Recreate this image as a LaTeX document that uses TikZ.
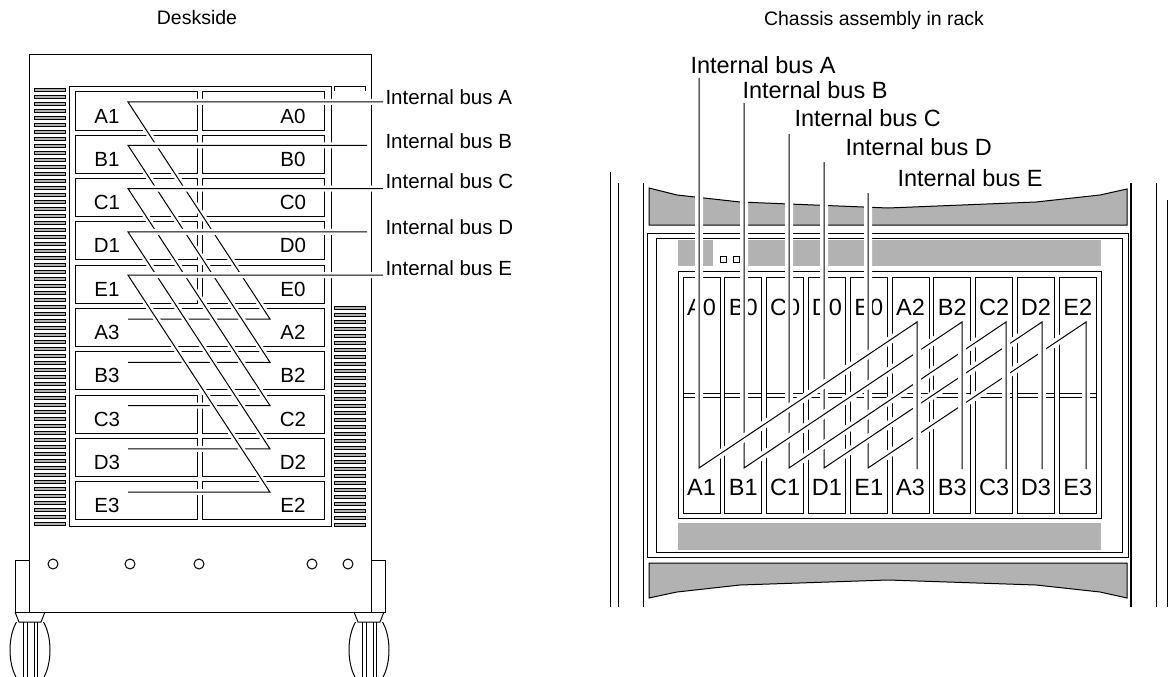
\documentclass[tikz,border=0pt]{standalone}
\usepackage{fontspec}
\setmainfont{Liberation Sans}
\usetikzlibrary{calc}

\begin{document}
\begin{tikzpicture}[x=1pt, y=-1pt, line width=1pt]
        % Sizes, in pixels of the drawing
        \pgfmathsetmacro{\rowstep}{43.3}
        \pgfmathsetmacro{\slotstep}{41.8}

        \tikzset{
            halo/.style={preaction={draw=white, line width=#1}},
            halo/.default=6pt,
            grayfill/.style={fill=black!30},
            slat/.style={fill=black!30, line width=0.6pt},
            titlefont/.style={inner sep=0pt, font=\fontsize{19.5}{19.5}\selectfont},
            deskfont/.style={inner sep=0pt, font=\fontsize{20.5}{20.5}\selectfont},
            rackfont/.style={inner sep=0pt, font=\fontsize{23.5}{23.5}\selectfont},
        }

        \useasboundingbox (0,0) rectangle (1171,677);

        % Deskside
        \node[titlefont, anchor=base] (tdesk) at (197,25) {Deskside};

        % Body, bay frame and bumpers
        \begin{scope}
            \draw (29,55) rectangle (371,612);
            \draw (69,87) rectangle (331,526);
            \draw (15,560) rectangle (29,612);
            \draw (371,560) rectangle (385,612);
            \draw (334,91) -- (334,87) -- (365,87) -- (365,91);
        \end{scope}

        % Vents left and right
        \foreach \i in {0,...,62}
            \draw[slat] (34,88+7*\i) rectangle (65,91.5+7*\i);
        \foreach \i in {0,...,31}
            \draw[slat] (334,306+7*\i) rectangle (365,309.5+7*\i);

        % Holes and casters
        \foreach \x in {53,130,199,312,348}
            \draw (\x,564) circle (5pt);
        \foreach \x in {30,369} {
            \draw (\x-15,612) -- (\x-11,622) -- (\x+11,622) -- (\x+15,612);
            \begin{scope}
                \clip (\x-25,622) rectangle (\x+25,677);
                \draw (\x,650) ellipse (20pt and 38pt);
            \end{scope}
            \foreach \d in {-7,-3,4,7}
                \draw (\x+\d,622) -- (\x+\d,677);
        }

        % Rows of bays
        \foreach \r in {0,1,2,3,4,7,8,9} {
            \draw (75,92+\rowstep*\r) rectangle (197,130+\rowstep*\r);
            \draw (202,92+\rowstep*\r) rectangle (324,130+\rowstep*\r);
        }
        \foreach \r in {5,6}
            \draw (75,92+\rowstep*\r) rectangle (324,130+\rowstep*\r);

        \foreach \a/\b [count=\i from 0] in {A1/A0, B1/B0, C1/C0, D1/D0,
            E1/E0, A3/A2, B3/B2, C3/C2, D3/D2, E3/E2} {
            \node[deskfont, anchor=base] (d\a) at (107,123+\rowstep*\i) {\a};
            \node[deskfont, anchor=base] (d\b) at (293,123+\rowstep*\i) {\b};
        }

        % Internal buses of the deskside
        \foreach \b/\e/\y [count=\i from 0] in {A/383/104, B/367/148,
            C/383/188, D/367/234, E/383/275} {
            \node[deskfont, anchor=base west] (dbus\b) at (385,\y)
                {Internal bus \b};
            \coordinate (dend\b) at (\e,102+\rowstep*\i);
            \coordinate (dtop\b) at (128,102+\rowstep*\i);
            \coordinate (dmid\b) at (270,319+\rowstep*\i);
            \coordinate (dlow\b) at (128,319+\rowstep*\i);
            \draw[halo] (dend\b) -- (dtop\b) -- (dmid\b) -- (dlow\b);
        }

        % Chassis assembly in rack
        \node[titlefont, anchor=base] (track) at (874,26)
            {Chassis assembly in rack};

        % Rails and chassis sides
        \begin{scope}
            \draw (610,172) -- (610,607);
            \draw (618,183) -- (618,607);
            \draw (643,183) -- (643,607);
            \draw[line width=2pt] (1131,183) -- (1131,607);
            \draw (1156,183) -- (1156,607);
            \draw (1167,200) -- (1167,607);
        \end{scope}

        % Front bands and frames
        \begin{scope}
            \draw[grayfill] (649,225) -- (649,188) -- (677,195) -- (740,202)
                -- (888,208) -- (1036,202) -- (1100,195) -- (1127,189)
                -- (1127,225) -- cycle;
            \draw[grayfill] (649,563) -- (1127,563) -- (1127,598)
                -- (1100,592) -- (1036,585) -- (888,580) -- (740,585)
                -- (677,592) -- (649,598) -- cycle;
            \draw (647,233) rectangle (1128,557);
            \draw (656,238) rectangle (1122,552);
            \fill[black!30] (678,240) rectangle (713,266);
            \fill[black!30] (745,240) rectangle (1101,266);
            \draw[line width=0.8pt] (720,256) rectangle +(6,6);
            \draw[line width=0.8pt] (733,256) rectangle +(6,6);
            \fill[black!30] (678,523) rectangle (1101,550);
            \draw (678,271) rectangle (1101,518);
        \end{scope}

        % Slots
        \foreach \u/\l [count=\k from 0] in {A0/A1, B0/B1, C0/C1, D0/D1,
            E0/E1, A2/A3, B2/B3, C2/C3, D2/D3, E2/E3} {
            \draw (683+\slotstep*\k,277) rectangle +(37,236);
            \draw (683+\slotstep*\k,393) -- +(37,0);
            \draw (683+\slotstep*\k,397) -- +(37,0);
            \node[rackfont, anchor=base] (r\u) at (701.5+\slotstep*\k,315) {\u};
            \node[rackfont, anchor=base] (r\l) at (701.5+\slotstep*\k,495) {\l};
        }

        % Internal buses of the rack, from E back to A
        \foreach \b/\x/\y/\xx/\lx/\ly in {E/868/193/1086/897/186,
            D/824/162/1042/845/155, C/789/134/1006/794/127,
            B/744/103/962/742/99, A/699/78/917/690/74} {
            \node[rackfont, anchor=base west] (rbus\b) at (\lx,\ly)
                {Internal bus \b};
            \coordinate (rtop\b) at (\x,\y);
            \coordinate (rlow\b) at (\x,468);
            \coordinate (rmid\b) at (\xx,322);
            \coordinate (rend\b) at (\xx,469);
            \draw[halo=8pt] (rtop\b) -- (rlow\b) -- (rmid\b) -- (rend\b);
        }

\end{tikzpicture}
\end{document}
